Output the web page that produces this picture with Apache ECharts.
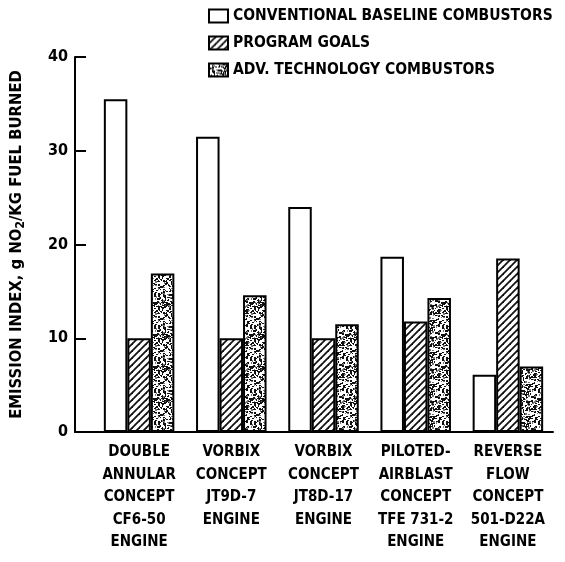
<!DOCTYPE html>
<html>
<head>
<meta charset="utf-8">
<script src="https://cdn.jsdelivr.net/npm/echarts@6/dist/echarts.min.js"></script>
<style>
  html, body { margin: 0; padding: 0; background: #fff; }
  #echart { width: 565px; height: 562px; }
</style>
</head>
<body>
<div id="echart"></div>
<script>
// engine / combustor categories
const categories = [
    'DOUBLE\nANNULAR\nCONCEPT\nCF6-50\nENGINE',
    'VORBIX\nCONCEPT\nJT9D-7\nENGINE',
    'VORBIX\nCONCEPT\nJT8D-17\nENGINE',
    'PILOTED-\nAIRBLAST\nCONCEPT\nTFE 731-2\nENGINE',
    'REVERSE\nFLOW\nCONCEPT\n501-D22A\nENGINE'
];
const seriesNames = ['CONVENTIONAL BASELINE COMBUSTORS', 'PROGRAM GOALS', 'ADV. TECHNOLOGY COMBUSTORS'];
const baseline = [35.5, 31.5, 24.0, 18.7, 6.1];
const goals = [10, 10, 10, 11.8, 18.5];
const advTech = [16.9, 14.6, 11.5, 14.3, 7.0];
const yTicks = [0, 10, 20, 30, 40];

const font = 'DejaVu Sans Condensed';

// hatch pattern (/ lines)
function hatch() {
    let c = document.createElement('canvas');
    c.width = 7; c.height = 7;
    let ctx = c.getContext('2d');
    ctx.fillStyle = '#fff';
    ctx.fillRect(0, 0, 7, 7);
    ctx.strokeStyle = '#111';
    ctx.lineWidth = 1.8;
    for (let k = -7; k <= 14; k += 7) {
        ctx.beginPath();
        ctx.moveTo(k - 1, 8);
        ctx.lineTo(k + 8, -1);
        ctx.stroke();
    }
    return c;
}

// stipple pattern, fixed seed so it is the same every time
function stipple() {
    let c = document.createElement('canvas');
    c.width = 32; c.height = 32;
    let ctx = c.getContext('2d');
    ctx.fillStyle = '#fff';
    ctx.fillRect(0, 0, 32, 32);
    let s = 4242;
    let rnd = () => { s = (s * 1103515245 + 12345) & 0x7fffffff; return s / 0x7fffffff; };
    for (let i = 0; i < 300; i++) {
        ctx.fillStyle = rnd() < 0.8 ? '#111' : '#777';
        ctx.fillRect(Math.floor(rnd() * 32), Math.floor(rnd() * 32), 1 + Math.floor(rnd() * 2), 1 + Math.floor(rnd() * 2));
    }
    return c;
}

const fills = [
    '#fff',
    {image: hatch(), repeat: 'repeat'},
    {image: stipple(), repeat: 'repeat'}
];

let Echart = echarts.init(document.getElementById('echart'));
let gridTop = 57, gridBottom = 130;

let option = {
    backgroundColor: '#fff',
    animation: false,
    textStyle: {fontFamily: font, color: '#000'},
    legend: {
        orient: 'vertical',
        left: 203,
        top: 3,
        icon: 'rect',
        itemWidth: 19,
        itemHeight: 13,
        itemGap: 11,
        selectedMode: false,
        textStyle: {fontFamily: font, fontWeight: 'bold', fontSize: 15.5, color: '#000'},
        data: seriesNames
    },
    grid: [
        {left: 73, right: 12, top: gridTop, bottom: gridBottom},
        {left: 93, right: 11, top: gridTop, bottom: gridBottom}
    ],
    xAxis: [{
        gridIndex: 0,
        type: 'value',
        min: 0,
        max: 1,
        axisLine: {show: true, lineStyle: {color: '#000', width: 2}},
        axisTick: {show: false},
        axisLabel: {show: false},
        splitLine: {show: false}
    }, {
        gridIndex: 1,
        type: 'category',
        data: categories,
        axisLine: {show: false},
        axisTick: {show: false},
        axisLabel: {
            margin: 9,
            interval: 0,
            fontFamily: font,
            fontWeight: 'bold',
            fontSize: 15,
            lineHeight: 22.5,
            color: '#000'
        }
    }],
    yAxis: [{
        gridIndex: 0,
        type: 'value',
        min: yTicks[0],
        max: yTicks[yTicks.length - 1],
        interval: 10,
        name: 'EMISSION INDEX, g NO{s|2}/KG FUEL BURNED',
        nameLocation: 'middle',
        nameGap: 50,
        nameTextStyle: {
            fontFamily: font,
            fontWeight: 'bold',
            fontSize: 16.5,
            color: '#000',
            rich: {
                s: {fontFamily: font, fontWeight: 'bold', fontSize: 12, padding: [0, 0, -8, 0], color: '#000'}
            }
        },
        axisLine: {show: true, lineStyle: {color: '#000', width: 2}},
        axisTick: {show: true, inside: true, length: 11, lineStyle: {color: '#000', width: 2}},
        axisLabel: {fontFamily: font, fontWeight: 'bold', fontSize: 16, color: '#000', margin: 7},
        splitLine: {show: false}
    }, {
        gridIndex: 1,
        type: 'value',
        min: 0,
        max: 40,
        show: false
    }],
    series: [baseline, goals, advTech].map((d, i) => ({
        name: seriesNames[i],
        type: 'bar',
        xAxisIndex: 1,
        yAxisIndex: 1,
        barWidth: 23.5,
        barGap: '0%',
        itemStyle: {color: fills[i], borderColor: '#000', borderWidth: 2},
        data: d
    }))
};
Echart.setOption(option);
</script>
</body>
</html>
